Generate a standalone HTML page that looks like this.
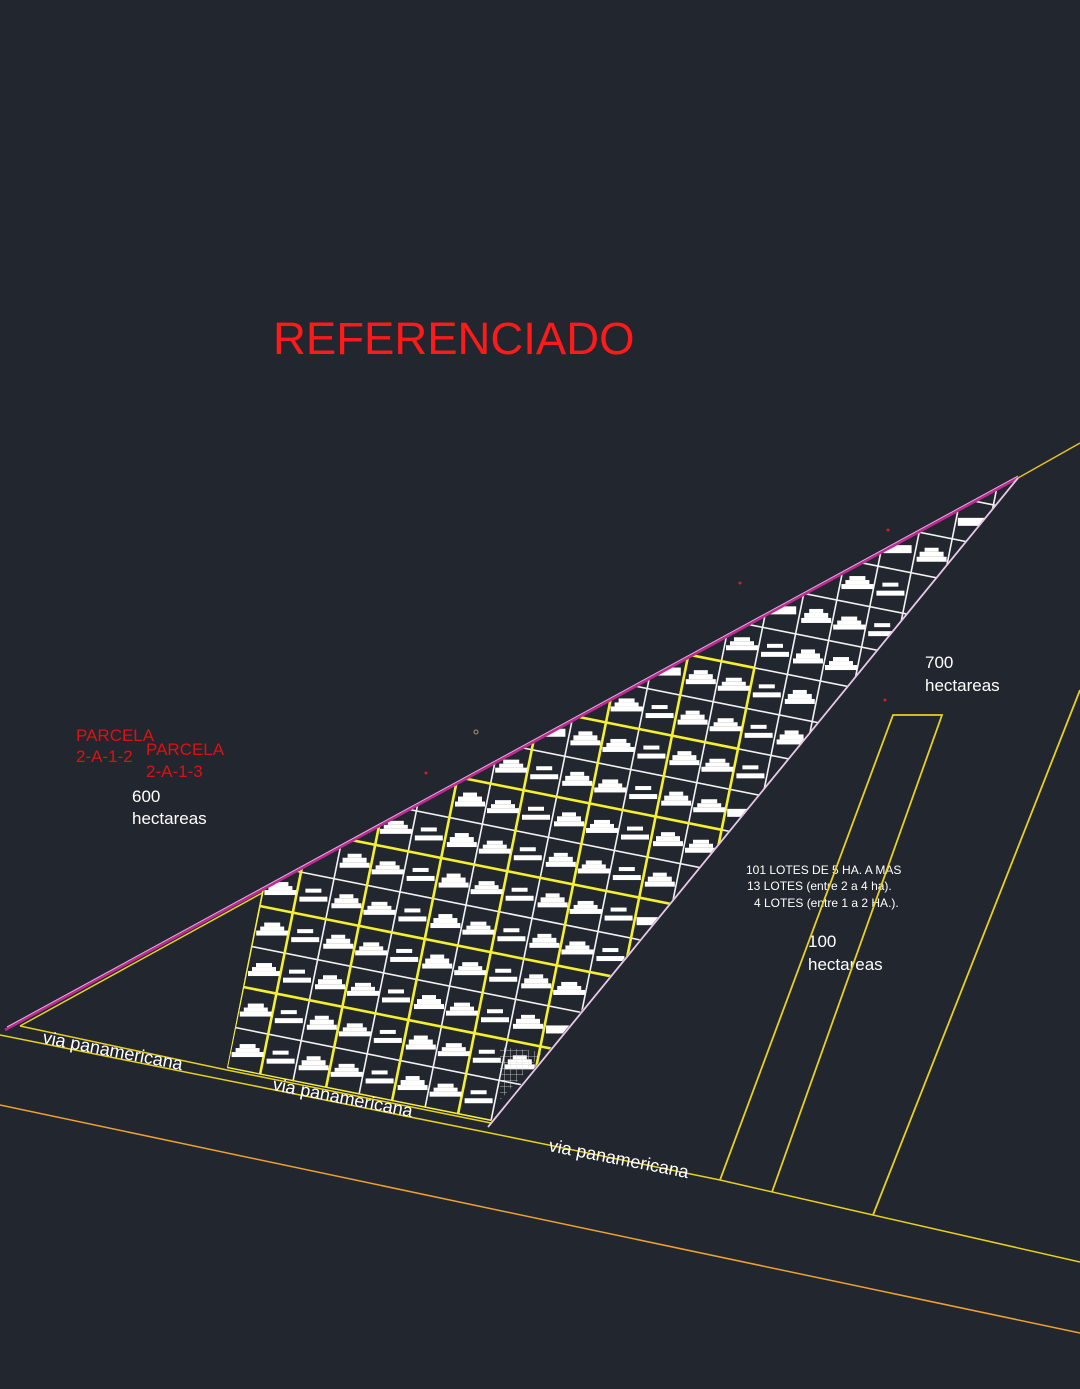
<!DOCTYPE html>
<html><head><meta charset="utf-8"><style>
html,body{margin:0;padding:0;background:#22262f;}
svg{display:block}
text{font-family:"Liberation Sans",sans-serif}
</style></head><body>
<svg id="s" width="1080" height="1389" viewBox="0 0 1080 1389" xmlns="http://www.w3.org/2000/svg">
<defs>
<clipPath id="tri"><polygon points="227,1068 491,1121 1018,478 262,891"/></clipPath>
<pattern id="hatch" width="6" height="6" patternUnits="userSpaceOnUse"><path d="M0 0H6M0 0V6" stroke="#ddd" stroke-width="0.8"/></pattern>
</defs>
<rect width="1080" height="1389" fill="#22262f"/>
<text x="273" y="354" font-size="45.5" fill="#ff1a1a">REFERENCIADO</text>
<text x="76" y="741" font-size="17" fill="#e01010">PARCELA</text>
<text x="76" y="762" font-size="17" fill="#e01010">2-A-1-2</text>
<text x="146" y="755" font-size="17" fill="#e01010">PARCELA</text>
<text x="146" y="777" font-size="17" fill="#e01010">2-A-1-3</text>
<text x="132" y="802" font-size="17" fill="#fff">600</text>
<text x="132" y="824" font-size="17" fill="#fff">hectareas</text>
<text x="925" y="668" font-size="17" fill="#fff">700</text>
<text x="925" y="691" font-size="17" fill="#fff">hectareas</text>
<text x="808" y="947" font-size="17" fill="#fff">100</text>
<text x="808" y="970" font-size="17" fill="#fff">hectareas</text>
<text x="746" y="874" font-size="12" fill="#fff">101 LOTES DE 5 HA. A MAS</text>
<text x="747" y="890" font-size="12" fill="#fff">13 LOTES (entre 2 a 4 ha).</text>
<text x="754" y="907" font-size="12" fill="#fff">4 LOTES (entre 1 a 2 HA.).</text>
<line x1="0" y1="1105" x2="1080" y2="1333" stroke="#f0a030" stroke-width="1.5"/>
<polyline points="0,1035 490,1133 720,1180 873,1215 1080,1262" fill="none" stroke="#e8d020" stroke-width="1.5"/>
<polyline points="20,1026 227,1070 491,1123" fill="none" stroke="#e8d020" stroke-width="1.5"/>
<line x1="20" y1="1026" x2="262" y2="893" stroke="#e8d020" stroke-width="1.5"/>
<line x1="1018" y1="478" x2="1080" y2="443" stroke="#e8c020" stroke-width="1.5"/>
<polyline points="720,1180 893,715 942,715 772,1192" fill="none" stroke="#e8d020" stroke-width="1.8"/>
<line x1="1080" y1="690" x2="873" y2="1215" stroke="#e8d020" stroke-width="1.8"/>
<g id="grid" clip-path="url(#tri)"></g>
<polygon points="500,1047 543,1052 500,1100" fill="url(#hatch)"/>
<line x1="5" y1="1030" x2="1018" y2="478" stroke="#c02890" stroke-width="2.5"/>
<line x1="7" y1="1027" x2="1018" y2="476" stroke="#e8b0e8" stroke-width="1"/>
<line x1="488" y1="1127" x2="1018" y2="478" stroke="#e8c8e8" stroke-width="1.8"/>
<g font-size="18" fill="#fff">
<text transform="translate(42,1043) rotate(11)">via panamericana</text>
<text transform="translate(272,1090) rotate(11)">via panamericana</text>
<text transform="translate(548,1151) rotate(11)">via panamericana</text>
</g>
<circle cx="476" cy="732" r="2" fill="none" stroke="#b09070"/>
<circle cx="888" cy="530" r="1.5" fill="#d02020"/>
<circle cx="740" cy="583" r="1.5" fill="#d02020"/>
<circle cx="426" cy="773" r="1.5" fill="#d02020"/>
<circle cx="885" cy="700" r="1.5" fill="#d02020"/>
</svg>
<script>
var NS="http://www.w3.org/2000/svg",g=document.getElementById("grid");
var O=[227,1068],u=[33,6.6],v=[8.2,-40.5];
function P(i,j){return [O[0]+i*u[0]+j*v[0],O[1]+i*u[1]+j*v[1]];}
function el(t,a){var e=document.createElementNS(NS,t);for(var k in a)e.setAttribute(k,a[k]);g.appendChild(e);return e;}
var poly=[[227,1068],[491,1121],[1018,478],[262,891]];
function inside(p){var c=false;for(var i=0,j=poly.length-1;i<poly.length;j=i++){var a=poly[i],b=poly[j];if(((a[1]>p[1])!=(b[1]>p[1]))&&(p[0]<(b[0]-a[0])*(p[1]-a[1])/(b[1]-a[1])+a[0]))c=!c;}return c;}
var I=22,J=20;
for(var i=0;i<=I;i++){var a=P(i,0),b=P(i,J);el("line",{x1:a[0],y1:a[1],x2:b[0],y2:b[1],stroke:"#f2f2f2","stroke-width":1.6});}
for(var j=0;j<=J;j++){var a=P(0,j),b=P(I,j);el("line",{x1:a[0],y1:a[1],x2:b[0],y2:b[1],stroke:"#f2f2f2","stroke-width":1.6});}
for(var i=1;i<=13;i+=2){var a=P(i,0),b=P(i,12);el("line",{x1:a[0],y1:a[1],x2:b[0],y2:b[1],stroke:"#f4f030","stroke-width":2.6});}
for(var j=0;j<=12;j+=2){var a=P(0,j),b=P(13,j);el("line",{x1:a[0],y1:a[1],x2:b[0],y2:b[1],stroke:"#f4f030","stroke-width":2.6});}
var a0=P(0,0),a1=P(0,12);el("line",{x1:a0[0],y1:a0[1],x2:a1[0],y2:a1[1],stroke:"#f4f030","stroke-width":1.6});
for(var i=0;i<I;i++)for(var j=0;j<J;j++){var c=P(i+0.5,j+0.5);
 var ok=inside(c)&&inside([c[0]-11,c[1]])&&inside([c[0]+11,c[1]]);
 if(!ok){ if(inside(c)){el("rect",{x:c[0]-15,y:c[1]-4,width:28,height:8,fill:"#fff"});} continue;}
 var t=((i*7+j*3)%3);
 if(t==0){el("rect",{x:c[0]-8,y:c[1]-7,width:16,height:4,fill:"#fff"});el("rect",{x:c[0]-12,y:c[1]-3,width:24,height:4,fill:"#fff"});el("rect",{x:c[0]-16,y:c[1]+1,width:32,height:5,fill:"#fff"});}
 else if(t==1){el("rect",{x:c[0]-8,y:c[1]-7,width:16,height:4,fill:"#fff"});el("rect",{x:c[0]-14,y:c[1]+1,width:28,height:5,fill:"#fff"});}
 else{el("rect",{x:c[0]-7,y:c[1]-8,width:14,height:4,fill:"#fff"});el("rect",{x:c[0]-12,y:c[1]-4,width:24,height:5,fill:"#fff"});el("rect",{x:c[0]-15,y:c[1]+1,width:30,height:5,fill:"#fff"});}
}
</script>
</body></html>
